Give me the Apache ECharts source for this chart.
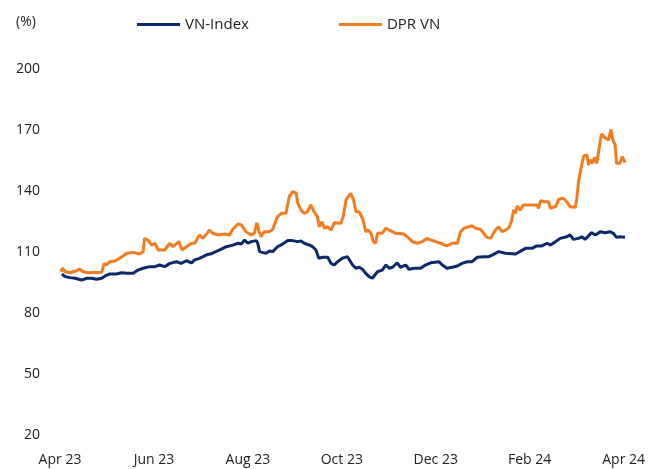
<!DOCTYPE html>
<html>
<head>
<meta charset="utf-8">
<script src="https://cdn.jsdelivr.net/npm/echarts@6/dist/echarts.min.js"></script>
<style>
    html, body { margin: 0; padding: 0; background: #fff; }
    #chart { width: 648px; height: 469px; }
</style>
</head>
<body>
<div id="chart"></div>
<script>
// x = months since Apr 2023, y = index (%)
var tickLabels = ['Apr 23', 'Jun 23', 'Aug 23', 'Oct 23', 'Dec 23', 'Feb 24', 'Apr 24'];

var vnMonths = [0.04, 0.11, 0.21, 0.32, 0.46, 0.57, 0.67, 0.78, 0.89, 0.96, 1.06, 1.20, 1.31, 1.42, 1.56, 1.66, 1.77, 1.91, 2.02, 2.12,
    2.23, 2.34, 2.48, 2.58, 2.69, 2.80, 2.87, 2.97, 3.11, 3.25, 3.40, 3.54, 3.68, 3.79, 3.86, 3.93, 4.00, 4.07, 4.18, 4.21,
    4.25, 4.32, 4.39, 4.46, 4.53, 4.63, 4.74, 4.85, 4.95, 5.06, 5.13, 5.20, 5.31, 5.38, 5.45, 5.51, 5.59, 5.70, 5.77, 5.84,
    5.91, 6.01, 6.12, 6.23, 6.30, 6.37, 6.44, 6.51, 6.58, 6.65, 6.69, 6.76, 6.86, 6.94, 7.01, 7.08, 7.18, 7.25, 7.36, 7.43,
    7.54, 7.68, 7.78, 7.89, 8.07, 8.14, 8.24, 8.35, 8.46, 8.56, 8.67, 8.77, 8.88, 9.02, 9.13, 9.20, 9.34, 9.48, 9.70, 9.91,
    10.05, 10.15, 10.26, 10.37, 10.44, 10.55, 10.65, 10.79, 10.86, 10.93, 11.04, 11.11, 11.18, 11.25, 11.32, 11.40, 11.50, 11.61, 11.71, 11.78,
    11.85, 11.92, 12.03];
var vnValues = [99.2, 97.9, 97.4, 97.1, 96.2, 97.1, 97.1, 96.6, 97.1, 98.2, 99.2, 99.2, 99.8, 99.5, 99.5, 101.1, 102, 102.8, 102.8, 103.6,
    102.8, 104.4, 105.2, 104.4, 105.7, 104.7, 106.1, 106.9, 108.5, 109.4, 111, 112.6, 113.4, 114.3, 113.9, 115.9, 114.3, 115.1, 115.6, 114.3,
    110.2, 109.7, 109.4, 110.5, 110.2, 112.6, 113.9, 115.6, 115.6, 115.1, 115.4, 114.3, 113.4, 112.6, 111, 106.9, 107.4, 107.4, 104.4, 103.6,
    105.2, 106.9, 107.7, 103.6, 102, 102.5, 101.5, 99.5, 97.9, 97.1, 96.2, 100.3, 101.1, 103.6, 102, 102.5, 104.7, 102.5, 103.6, 101.5,
    102, 102, 103.6, 104.7, 105.2, 103.6, 102, 102.5, 103.1, 104.4, 105.2, 105.2, 107.4, 107.7, 107.7, 108.5, 110.2, 109.4, 109, 111.8,
    111.8, 113, 113, 114.3, 113.4, 115.1, 116.7, 117.5, 118.4, 116.2, 116.7, 117.5, 116.2, 117.9, 119.5, 118.4, 120, 119.5, 120, 119.2,
    117.2, 117.5, 117.2];

var dprMonths = [0.02, 0.05, 0.11, 0.21, 0.35, 0.42, 0.49, 0.60, 0.89, 0.94, 0.99, 1.06, 1.17, 1.27, 1.34, 1.42, 1.56, 1.70, 1.77, 1.80,
    1.87, 1.95, 2.02, 2.09, 2.23, 2.34, 2.41, 2.53, 2.60, 2.69, 2.80, 2.87, 2.97, 3.04, 3.12, 3.18, 3.25, 3.36, 3.50, 3.61,
    3.68, 3.79, 3.86, 3.96, 4.07, 4.14, 4.19, 4.25, 4.28, 4.35, 4.46, 4.53, 4.63, 4.71, 4.81, 4.88, 4.95, 5.03, 5.06, 5.13,
    5.20, 5.27, 5.34, 5.41, 5.48, 5.52, 5.58, 5.63, 5.70, 5.77, 5.84, 5.98, 6.03, 6.09, 6.19, 6.25, 6.30, 6.37, 6.44, 6.51,
    6.56, 6.62, 6.67, 6.72, 6.76, 6.86, 6.94, 7.01, 7.08, 7.15, 7.32, 7.43, 7.50, 7.61, 7.71, 7.82, 7.89, 8.00, 8.10, 8.24,
    8.35, 8.46, 8.53, 8.60, 8.70, 8.77, 8.85, 8.95, 9.02, 9.09, 9.17, 9.20, 9.27, 9.34, 9.41, 9.48, 9.55, 9.61, 9.66, 9.70,
    9.73, 9.80, 9.87, 10.15, 10.19, 10.23, 10.33, 10.40, 10.44, 10.55, 10.62, 10.72, 10.79, 10.86, 10.97, 11.00, 11.04, 11.10, 11.15, 11.22,
    11.25, 11.29, 11.34, 11.38, 11.43, 11.46, 11.50, 11.53, 11.61, 11.68, 11.73, 11.77, 11.82, 11.85, 11.92, 11.97, 12.03];
var dprValues = [100.3, 102, 100.3, 99.8, 100.8, 101.6, 100.3, 99.8, 100, 104.4, 103.6, 105.2, 105.6, 106.9, 108, 109.4, 109.8, 109, 110.2, 116.7,
    115.9, 113.4, 114.3, 111, 111, 114.3, 112.6, 115.1, 111, 112.6, 114.3, 114.3, 118.4, 116.7, 118.9, 120.8, 119.2, 118.4, 118.9, 118.4,
    121.2, 123.8, 123.3, 120, 118.4, 119.2, 124.4, 119.2, 117.5, 120, 120, 121.2, 127.4, 129, 129, 137.2, 139.7, 138.9, 134, 130.7,
    129, 129.8, 133.1, 129.8, 127.4, 122.4, 124.9, 121.7, 122.4, 120.8, 124.4, 124.1, 127.4, 135.6, 138.9, 135.6, 129.8, 129.8, 126.6, 120,
    120.8, 119.2, 115.1, 114.3, 119.2, 119.2, 121.7, 120.8, 120, 119.2, 118.9, 116.7, 115.1, 114.3, 115.1, 116.7, 115.9, 115.1, 114.3, 113,
    114.3, 114.3, 120, 121.7, 122.4, 122.9, 121.7, 121.2, 119.2, 117.2, 116.7, 116.7, 120.8, 122.4, 120, 120.8, 121.7, 124.9, 130.7, 129,
    132.6, 130.7, 133.1, 133.1, 131.5, 135.2, 134.7, 134.7, 131.5, 132.3, 135.9, 136.4, 134.7, 132.3, 132, 135.6, 144.6, 152, 157.2, 157.7,
    152.8, 155.3, 153.6, 156.6, 153.6, 153.6, 164.3, 168, 166, 165.1, 170.3, 165.1, 162.6, 153.6, 153.6, 156.9, 153.9];

function pairs(xs, ys) {
    var out = [];
    for (var i = 0; i < xs.length; i++) {
        out.push([xs[i], ys[i]]);
    }
    return out;
}

var myChart = echarts.init(document.getElementById('chart'));

var fontFamily = '"Open Sans", "Noto Sans", sans-serif';

option = {
    animation: false,
    backgroundColor: '#ffffff',
    color: ['#0b2a6b', '#f47b20'],
    title: {
        text: '(%)',
        left: 11,
        top: 10,
        textStyle: {
            fontFamily: fontFamily,
            fontSize: 14,
            fontWeight: 'normal',
            color: '#222'
        }
    },
    legend: {
        left: 132,
        top: 12,
        itemWidth: 43,
        itemHeight: 3,
        itemGap: 90,
        icon: 'rect',
        textStyle: {
            fontFamily: fontFamily,
            fontSize: 15,
            color: '#222'
        },
        data: ['VN-Index', 'DPR VN']
    },
    grid: {
        left: 60,
        right: 20,
        top: 69,
        bottom: 34
    },
    xAxis: {
        type: 'value',
        min: 0,
        max: 12.05,
        interval: 2,
        axisLine: { show: false },
        axisTick: { show: false },
        splitLine: { show: false },
        axisLabel: {
            margin: 18,
            fontFamily: fontFamily,
            fontSize: 14,
            color: '#222',
            showMaxLabel: false,
            formatter: function (v) {
                if (v % 2 !== 0) return '';
                return tickLabels[v / 2] || '';
            }
        }
    },
    yAxis: {
        type: 'value',
        min: 20,
        max: 200,
        interval: 30,
        axisLine: { show: false },
        axisTick: { show: false },
        splitLine: { show: false },
        axisLabel: {
            margin: 20,
            fontFamily: fontFamily,
            fontSize: 14,
            color: '#222'
        }
    },
    series: [
        {
            name: 'VN-Index',
            type: 'line',
            showSymbol: false,
            lineStyle: { width: 3 },
            data: pairs(vnMonths, vnValues)
        },
        {
            name: 'DPR VN',
            type: 'line',
            showSymbol: false,
            lineStyle: { width: 3 },
            data: pairs(dprMonths, dprValues)
        }
    ]
};
myChart.setOption(option);
</script>
</body>
</html>
